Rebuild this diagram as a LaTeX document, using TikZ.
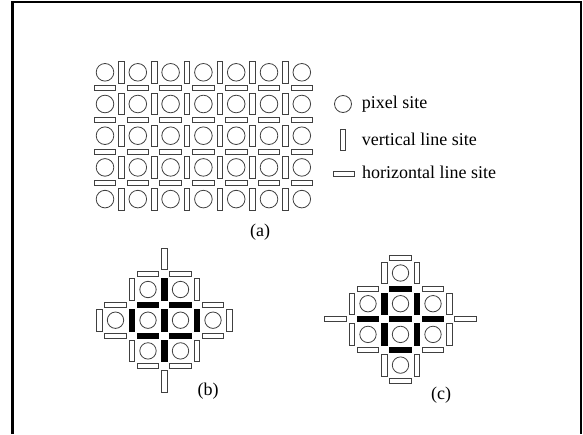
\documentclass[tikz,border=0pt]{standalone}
\usepackage{fontspec}
\setmainfont{Liberation Serif}
\newcommand\Bx[1]{(115.5+32.5*(#1))}
\newcommand\By[1]{(289.5+30.7*(#1))}
\newcommand\Cx[1]{(368+32.5*(#1))}
\newcommand\Cy[1]{(273+30.7*(#1))}
\newcommand\Vs[3]{\path[site,#3] ({#1},{#2}) ++(-2.8,-10.8) rectangle ++(5.6,21.6);}
\newcommand\Hs[3]{\path[site,#3] ({#1},{#2}) ++(-10.8,-2.5) rectangle ++(21.6,5);}
\begin{document}
\begin{tikzpicture}[x=1pt,y=-1pt,
  pix/.style={draw=black!75, line width=0.8pt},
  site/.style={draw=black!75, line width=0.7pt, fill=white},
  wht/.style={},
  blk/.style={fill=black, draw=black},
  lbl/.style={font=\fontsize{18}{20}\selectfont, inner sep=0pt}]
\useasboundingbox (0,0) rectangle (583,434);
\fill[white] (0,0) rectangle (583,434);
% frame
\draw[line width=3pt] (12.5,434) -- (12.5,0.8);
\draw[line width=2pt] (11,1.8) -- (582,1.8);
\draw[line width=2pt] (581,0.8) -- (581,434);
% (a) grid
\foreach \j in {0,...,4}{
  \foreach \i in {0,...,6}{
    \draw[pix] ({105+32.8*\i},{72.3+31.7*\j}) circle[radius=8.8];
  }
  \foreach \i in {0,...,5}{
    \Vs{105+32.8*\i+16.4}{72.3+31.7*\j}{wht}
  }
}
\foreach \j in {0,...,3}{
  \foreach \i in {0,...,6}{
    \Hs{105+32.8*\i}{72.3+31.7*\j+15.85}{wht}
  }
}
% legend
\draw[pix] (343,104) circle[radius=8.5];
\Vs{343}{140}{wht}
\Hs{343.7}{174}{wht}
\node[lbl, anchor=base west] (tpix) at (361.7,108.3) {pixel site};
\node[lbl, anchor=base west] (tver) at (361.7,145) {vertical line site};
\node[lbl, anchor=base west] (thor) at (362,178.3) {horizontal line site};
\node[lbl] (la) at (260,232) {(a)};
% (b)
\foreach \a/\b in {1/0,2/0,0/1,1/1,2/1,3/1,1/2,2/2}{
  \draw[pix] ({\Bx{\a}},{\By{\b}}) circle[radius=8.2];
}
\foreach \a/\b/\s in {1.5/-1/wht, 0.5/0/wht, 1.5/0/blk, 2.5/0/wht,
  -0.5/1/wht, 0.5/1/blk, 1.5/1/blk, 2.5/1/blk, 3.5/1/wht,
  0.5/2/wht, 1.5/2/blk, 2.5/2/wht, 1.5/3/wht}{
  \Vs{\Bx{\a}}{\By{\b}}{\s}
}
\foreach \a/\b/\s in {1/-0.5/wht, 2/-0.5/wht, 0/0.5/wht, 1/0.5/blk, 2/0.5/blk, 3/0.5/wht,
  0/1.5/wht, 1/1.5/blk, 2/1.5/blk, 3/1.5/wht, 1/2.5/wht, 2/2.5/wht}{
  \Hs{\Bx{\a}}{\By{\b}}{\s}
}
\node[lbl] (lb) at (208,391) {(b)};
% (c)
\foreach \a/\b in {1/0,0/1,1/1,2/1,0/2,1/2,2/2,1/3}{
  \draw[pix] ({\Cx{\a}},{\Cy{\b}}) circle[radius=8.2];
}
\foreach \a/\b/\s in {0.5/0/wht, 1.5/0/wht,
  -0.5/1/wht, 0.5/1/blk, 1.5/1/blk, 2.5/1/wht,
  -0.5/2/wht, 0.5/2/blk, 1.5/2/blk, 2.5/2/wht,
  0.5/3/wht, 1.5/3/wht}{
  \Vs{\Cx{\a}}{\Cy{\b}}{\s}
}
\foreach \a/\b/\s in {1/-0.5/wht, 0/0.5/wht, 1/0.5/blk, 2/0.5/wht,
  -1/1.5/wht, 0/1.5/blk, 1/1.5/blk, 2/1.5/blk, 3/1.5/wht,
  0/2.5/wht, 1/2.5/blk, 2/2.5/wht, 1/3.5/wht}{
  \Hs{\Cx{\a}}{\Cy{\b}}{\s}
}
\node[lbl] (lc) at (441,395.5) {(c)};
\end{tikzpicture}
\end{document}
